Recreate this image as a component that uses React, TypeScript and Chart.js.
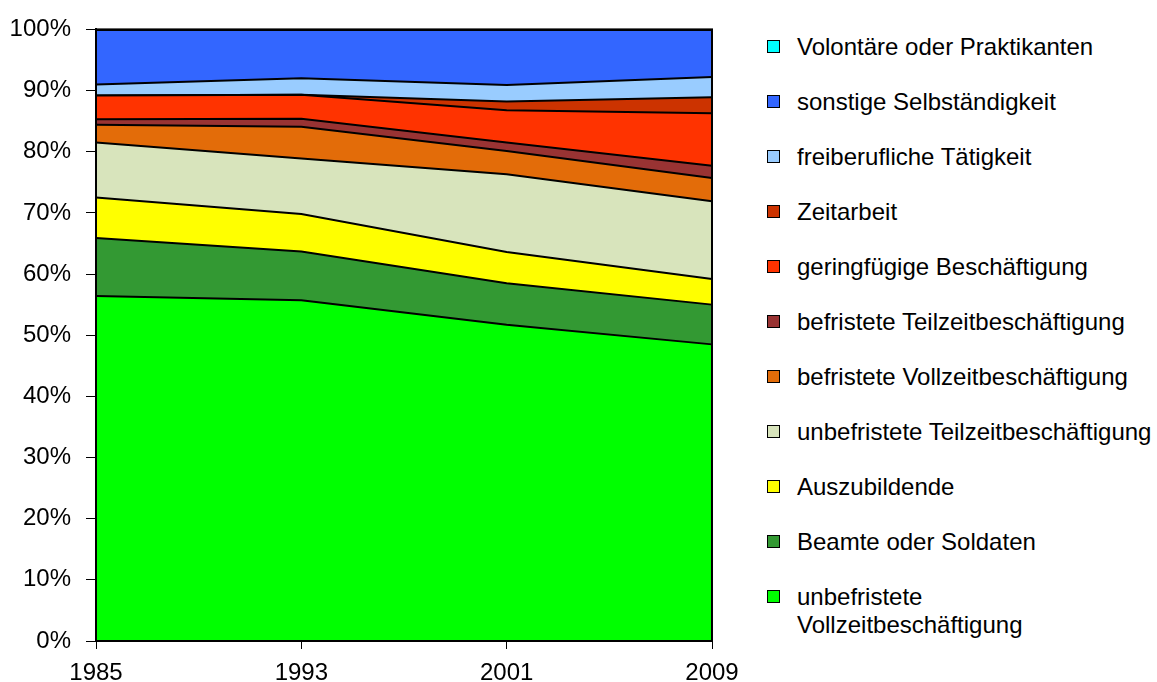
import React, { useEffect, useRef } from "react";
import { Chart, registerables } from "chart.js";

Chart.register(...registerables);

// Categories (x axis)
const years = ["1985", "1993", "2001", "2009"];

// Series values in % (bottom to top of the stack)
const unbefristeteVollzeit = [56.4, 55.7, 51.7, 48.5];
const beamteSoldaten = [9.5, 8.0, 6.8, 6.5];
const auszubildende = [6.6, 6.1, 5.1, 4.2];
const unbefristeteTeilzeit = [9.0, 9.1, 12.7, 12.7];
const befristeteVollzeit = [2.9, 5.2, 3.8, 3.8];
const befristeteTeilzeit = [0.9, 1.3, 1.4, 2.0];
const geringfuegig = [3.9, 3.9, 5.3, 8.6];
const zeitarbeit = [0, 0, 1.4, 2.6];
const freiberuflich = [1.8, 2.7, 2.7, 3.3];
const sonstigeSelbst = [8.9, 7.9, 9.0, 7.7];
const volontaere = [0.1, 0.1, 0.1, 0.1];

// Y tick labels
const yTicks = [0, 10, 20, 30, 40, 50, 60, 70, 80, 90, 100];

const seriesLabels = [
  "unbefristete\nVollzeitbeschäftigung",
  "Beamte oder Soldaten",
  "Auszubildende",
  "unbefristete Teilzeitbeschäftigung",
  "befristete Vollzeitbeschäftigung",
  "befristete Teilzeitbeschäftigung",
  "geringfügige Beschäftigung",
  "Zeitarbeit",
  "freiberufliche Tätigkeit",
  "sonstige Selbständigkeit",
  "Volontäre oder Praktikanten",
];
const seriesData = [
  unbefristeteVollzeit,
  beamteSoldaten,
  auszubildende,
  unbefristeteTeilzeit,
  befristeteVollzeit,
  befristeteTeilzeit,
  geringfuegig,
  zeitarbeit,
  freiberuflich,
  sonstigeSelbst,
  volontaere,
];
const seriesColors = [
  "#00FF00",
  "#339933",
  "#FFFF00",
  "#D8E4BC",
  "#E36C09",
  "#993333",
  "#FF3300",
  "#CC3300",
  "#99CCFF",
  "#3366FF",
  "#00FFFF",
];

const FONT = "'Liberation Sans', Arial, sans-serif";

const framePlugin = {
  id: "frame",
  afterDatasetsDraw(chart: any) {
    const { ctx, chartArea } = chart;
    ctx.save();
    ctx.strokeStyle = "#000";
    ctx.lineWidth = 2;
    ctx.strokeRect(
      chartArea.left,
      chartArea.top,
      chartArea.right - chartArea.left,
      chartArea.bottom - chartArea.top
    );
    ctx.restore();
  },
};

export default function App() {
  const canvasRef = useRef<HTMLCanvasElement | null>(null);

  useEffect(() => {
    document.body.style.margin = "0";
    const canvas = canvasRef.current;
    if (!canvas) return;
    const chart = new Chart(canvas, {
      type: "line",
      data: {
        labels: years,
        datasets: seriesData.map((d, i) => ({
          label: seriesLabels[i],
          data: d,
          backgroundColor: seriesColors[i],
          borderColor: "#000000",
          borderWidth: 2,
          pointRadius: 0,
          tension: 0,
          fill: i === 0 ? "origin" : "-1",
        })),
      },
      options: {
        animation: false,
        responsive: false,
        devicePixelRatio: 1,
        layout: { padding: { top: 26, right: 48, left: 0, bottom: 0 } },
        plugins: {
          legend: { display: false },
          tooltip: { enabled: false },
        },
        scales: {
          x: {
            type: "category",
            offset: false,
            grid: {
              display: true,
              drawOnChartArea: false,
              drawTicks: true,
              tickLength: 8,
              color: "#000",
              lineWidth: 1,
            },
            border: { display: true, color: "#000", width: 2 },
            ticks: {
              color: "#000",
              font: { family: FONT, size: 24 },
              padding: 10,
              maxRotation: 0,
              autoSkip: false,
            },
            afterFit: (s: any) => {
              s.height = 41;
            },
          },
          y: {
            stacked: true,
            min: 0,
            max: 100,
            grid: {
              display: true,
              drawOnChartArea: false,
              drawTicks: true,
              tickLength: 10,
              color: "#000",
              lineWidth: 1,
            },
            border: { display: true, color: "#000", width: 2 },
            afterBuildTicks: (s: any) => {
              s.ticks = yTicks.map((v) => ({ value: v }));
            },
            ticks: {
              color: "#000",
              font: { family: FONT, size: 24 },
              padding: 15,
              callback: (v: any) => v + "%",
            },
            afterFit: (s: any) => {
              s.width = 96;
            },
          },
        },
      },
      plugins: [framePlugin],
    });
    return () => chart.destroy();
  }, []);

  const legendItems = seriesLabels
    .map((l, i) => ({ label: l, color: seriesColors[i] }))
    .reverse();

  return (
    <div
      style={{
        position: "relative",
        width: 1157,
        height: 682,
        overflow: "hidden",
        background: "#fff",
        fontFamily: FONT,
      }}
    >
      <canvas
        ref={canvasRef}
        width={760}
        height={682}
        style={{ position: "absolute", left: 0, top: 0, width: 760, height: 682 }}
      />
      {legendItems.map((it, i) => {
        const cy = 47 + 55 * i;
        return (
          <div key={i}>
            <div
              style={{
                position: "absolute",
                left: 767,
                top: cy - 7,
                width: 11,
                height: 11,
                border: "1px solid #000",
                background: it.color,
              }}
            />
            <div
              style={{
                position: "absolute",
                left: 797,
                top: cy - 14,
                fontSize: 24,
                lineHeight: "28px",
                color: "#000",
                whiteSpace: "pre-line",
              }}
            >
              {it.label}
            </div>
          </div>
        );
      })}
    </div>
  );
}
